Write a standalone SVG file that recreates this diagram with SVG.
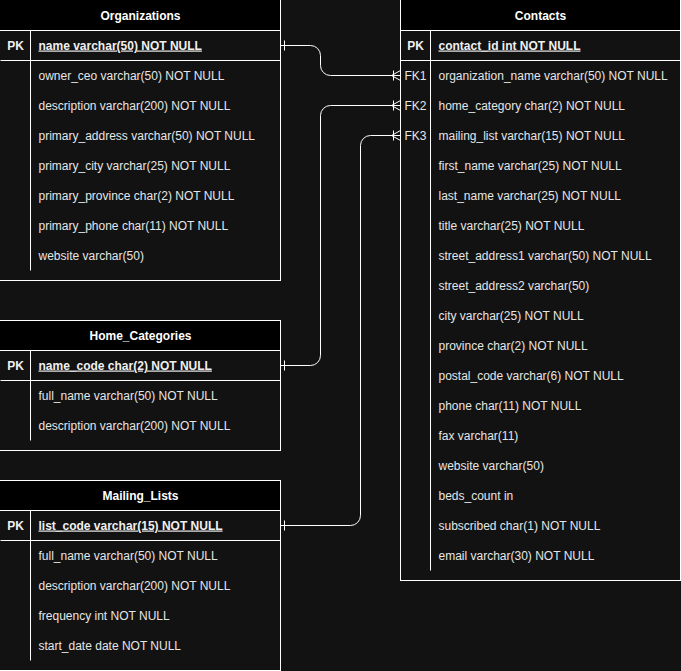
<svg xmlns="http://www.w3.org/2000/svg" xmlns:xlink="http://www.w3.org/1999/xlink" width="681" height="671" viewBox="0 0 681 671">
  <style>
    .frame { fill: #121212; stroke: #ffffff; stroke-width: 1; }
    .head { fill: #000000; stroke: #ffffff; stroke-width: 1; }
    .rule { stroke: #ffffff; stroke-width: 1; fill: none; }
    .title { font-family: "Liberation Sans", Arial, sans-serif; font-size: 12px; font-weight: bold; fill: #ffffff; text-anchor: middle; }
    .key { font-family: "Liberation Sans", Arial, sans-serif; font-size: 12px; font-weight: bold; fill: #f0f0f0; }
    .keyc { text-anchor: middle; }
    .pkname { text-decoration: underline; }
    .field { font-family: "Liberation Sans", Arial, sans-serif; font-size: 12px; fill: #e6e6e6; }
    .link { stroke: #ffffff; stroke-width: 1; fill: none; }
  </style>
  <defs>
    <!-- mandatory-one end: single perpendicular tick -->
    <g id="one"><line class="link" x1="4" y1="-5" x2="4" y2="5"/></g>
    <!-- one-to-many end: tick plus crow's foot opening toward the entity -->
    <g id="many">
      <line class="link" x1="-7" y1="-5" x2="-7" y2="5"/>
      <path class="link" d="M-9 0 L0 -5 M-9 0 L0 5"/>
    </g>
  </defs>
  <rect x="0" y="0" width="681" height="671" fill="#121212"/>

  <g transform="translate(0.5,0.5)">
    <!-- Organizations (left and top edges sit on the page border) -->
    <g id="organizations">
      <rect class="frame" x="-1" y="-1" width="281" height="281"/>
      <rect class="head" x="-1" y="-1" width="281" height="31"/>
      <line class="rule" x1="0" y1="60" x2="280" y2="60"/>
      <line class="rule" x1="30" y1="30" x2="30" y2="60"/>
      <line class="rule" x1="30" y1="60" x2="30" y2="270"/>
      <text class="title" x="140" y="19">Organizations</text>
      <text class="key keyc" x="15" y="49">PK</text>
      <text class="key pkname" x="38" y="49">name varchar(50) NOT NULL</text>
      <text class="field" x="38" y="79">owner_ceo varchar(50) NOT NULL</text>
      <text class="field" x="38" y="109">description varchar(200) NOT NULL</text>
      <text class="field" x="38" y="139">primary_address varchar(50) NOT NULL</text>
      <text class="field" x="38" y="169">primary_city varchar(25) NOT NULL</text>
      <text class="field" x="38" y="199">primary_province char(2) NOT NULL</text>
      <text class="field" x="38" y="229">primary_phone char(11) NOT NULL</text>
      <text class="field" x="38" y="259">website varchar(50)</text>
    </g>

    <!-- Home_Categories -->
    <g id="home_categories">
      <rect class="frame" x="-1" y="320" width="281" height="130"/>
      <rect class="head" x="-1" y="320" width="281" height="30"/>
      <line class="rule" x1="0" y1="380" x2="280" y2="380"/>
      <line class="rule" x1="30" y1="350" x2="30" y2="380"/>
      <line class="rule" x1="30" y1="380" x2="30" y2="440"/>
      <text class="title" x="140" y="339">Home_Categories</text>
      <text class="key keyc" x="15" y="369">PK</text>
      <text class="key pkname" x="38" y="369">name_code char(2) NOT NULL</text>
      <text class="field" x="38" y="399">full_name varchar(50) NOT NULL</text>
      <text class="field" x="38" y="429">description varchar(200) NOT NULL</text>
    </g>

    <!-- Mailing_Lists -->
    <g id="mailing_lists">
      <rect class="frame" x="-1" y="480" width="281" height="190"/>
      <rect class="head" x="-1" y="480" width="281" height="30"/>
      <line class="rule" x1="0" y1="540" x2="280" y2="540"/>
      <line class="rule" x1="30" y1="510" x2="30" y2="540"/>
      <line class="rule" x1="30" y1="540" x2="30" y2="660"/>
      <text class="title" x="140" y="499">Mailing_Lists</text>
      <text class="key keyc" x="15" y="529">PK</text>
      <text class="key pkname" x="38" y="529">list_code varchar(15) NOT NULL</text>
      <text class="field" x="38" y="559">full_name varchar(50) NOT NULL</text>
      <text class="field" x="38" y="589">description varchar(200) NOT NULL</text>
      <text class="field" x="38" y="619">frequency int NOT NULL</text>
      <text class="field" x="38" y="649">start_date date NOT NULL</text>
    </g>

    <!-- Contacts -->
    <g id="contacts">
      <rect class="frame" x="400" y="-1" width="280" height="581"/>
      <rect class="head" x="400" y="-1" width="280" height="31"/>
      <line class="rule" x1="400" y1="60" x2="680" y2="60"/>
      <line class="rule" x1="430" y1="30" x2="430" y2="60"/>
      <line class="rule" x1="430" y1="60" x2="430" y2="570"/>
      <text class="title" x="540" y="19">Contacts</text>
      <text class="key keyc" x="415" y="49">PK</text>
      <text class="key pkname" x="438" y="49">contact_id int NOT NULL</text>
      <text class="field" x="404" y="79">FK1</text>
      <text class="field" x="404" y="109">FK2</text>
      <text class="field" x="404" y="139">FK3</text>
      <text class="field" x="438" y="79">organization_name varchar(50) NOT NULL</text>
      <text class="field" x="438" y="109">home_category char(2) NOT NULL</text>
      <text class="field" x="438" y="139">mailing_list varchar(15) NOT NULL</text>
      <text class="field" x="438" y="169">first_name varchar(25) NOT NULL</text>
      <text class="field" x="438" y="199">last_name varchar(25) NOT NULL</text>
      <text class="field" x="438" y="229">title varchar(25) NOT NULL</text>
      <text class="field" x="438" y="259">street_address1 varchar(50) NOT NULL</text>
      <text class="field" x="438" y="289">street_address2 varchar(50)</text>
      <text class="field" x="438" y="319">city varchar(25) NOT NULL</text>
      <text class="field" x="438" y="349">province char(2) NOT NULL</text>
      <text class="field" x="438" y="379">postal_code varchar(6) NOT NULL</text>
      <text class="field" x="438" y="409">phone char(11) NOT NULL</text>
      <text class="field" x="438" y="439">fax varchar(11)</text>
      <text class="field" x="438" y="469">website varchar(50)</text>
      <text class="field" x="438" y="499">beds_count in</text>
      <text class="field" x="438" y="529">subscribed char(1) NOT NULL</text>
      <text class="field" x="438" y="559">email varchar(30) NOT NULL</text>
    </g>

    <!-- Relationships -->
    <g id="connectors">
      <path class="link" d="M280 45 H310 A10 10 0 0 1 320 55 V65 A10 10 0 0 0 330 75 H400"/>
      <path class="link" d="M280 365 H310 A10 10 0 0 0 320 355 V115 A10 10 0 0 1 330 105 H400"/>
      <path class="link" d="M280 525 H350 A10 10 0 0 0 360 515 V145 A10 10 0 0 1 370 135 H400"/>
      <use xlink:href="#one" transform="translate(280,45)"/>
      <use xlink:href="#one" transform="translate(280,365)"/>
      <use xlink:href="#one" transform="translate(280,525)"/>
      <use xlink:href="#many" transform="translate(400,75)"/>
      <use xlink:href="#many" transform="translate(400,105)"/>
      <use xlink:href="#many" transform="translate(400,135)"/>
    </g>
  </g>
</svg>
